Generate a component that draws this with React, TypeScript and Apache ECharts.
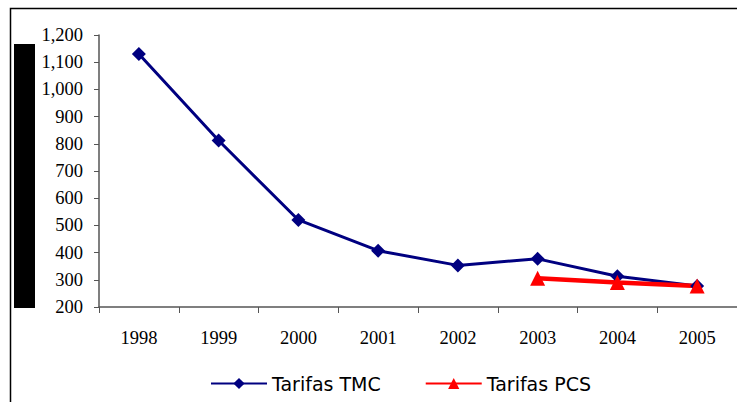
import React, { useEffect, useRef } from "react";
import * as echarts from "echarts";

const years = ["1998", "1999", "2000", "2001", "2002", "2003", "2004", "2005"];
const tmc = [1130, 812, 520, 407, 353, 377, 313, 277];
const pcs = [null, null, null, null, null, 306, 290, 277];
const yMin = 200;
const yMax = 1200;
const yStep = 100;

export default function App() {
  const ref = useRef<HTMLDivElement>(null);
  useEffect(() => {
    const chart = echarts.init(ref.current!, null, { renderer: "svg" });
    chart.setOption({
      animation: false,
      backgroundColor: "#ffffff",
      graphic: [
        {
          type: "rect",
          shape: { x: 10.5, y: 8.5, width: 740, height: 400 },
          style: { fill: "none", stroke: "#000", lineWidth: 1.5 },
          z: 100,
        },
        {
          type: "rect",
          shape: { x: 14, y: 44, width: 21, height: 264 },
          style: { fill: "#000" },
        },
      ],
      grid: { left: 99, top: 35, right: -2, bottom: 95, containLabel: false },
      legend: {
        top: 369,
        left: 205,
        itemWidth: 56,
        itemHeight: 14,
        itemGap: 44,
        textStyle: { fontFamily: "DejaVu Sans", fontSize: 19, color: "#000" },
        data: ["Tarifas TMC", "Tarifas PCS"],
      },
      xAxis: {
        type: "category",
        data: years,
        boundaryGap: true,
        axisLine: { lineStyle: { color: "#555", width: 1.5 } },
        axisTick: { show: true, length: 6, inside: false, lineStyle: { color: "#555" } },
        axisLabel: { fontFamily: "Liberation Serif", fontSize: 18.5, color: "#000", margin: 21 },
        splitLine: { show: false },
      },
      yAxis: {
        type: "value",
        min: yMin,
        max: yMax,
        interval: yStep,
        axisLine: { show: true, lineStyle: { color: "#555", width: 1.5 } },
        axisTick: { show: true, length: 5, lineStyle: { color: "#555" } },
        axisLabel: {
          fontFamily: "Liberation Serif",
          fontSize: 18.5,
          color: "#000",
          margin: 16,
          formatter: (v: number) => v.toLocaleString("en-US"),
        },
        splitLine: { show: false },
      },
      series: [
        {
          name: "Tarifas TMC",
          type: "line",
          data: tmc,
          symbol: "diamond",
          symbolSize: 14,
          lineStyle: { color: "#000080", width: 3 },
          itemStyle: { color: "#000080" },
        },
        {
          name: "Tarifas PCS",
          type: "line",
          data: pcs,
          symbol: "triangle",
          symbolSize: 15,
          lineStyle: { color: "#ff0000", width: 4.5 },
          itemStyle: { color: "#ff0000" },
        },
      ],
    });
    return () => chart.dispose();
  }, []);
  return (
    <div
      ref={ref}
      style={{ position: "fixed", left: 0, top: 0, width: 737, height: 402 }}
    />
  );
}
